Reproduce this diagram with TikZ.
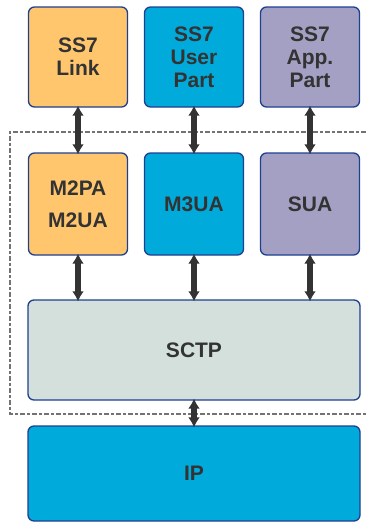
\documentclass[tikz,border=0pt]{standalone}
\usepackage{fontspec}
\setsansfont{Liberation Sans}
\usetikzlibrary{arrows.meta,positioning}
\definecolor{linkorange}{HTML}{FFC66E}
\definecolor{userblue}{HTML}{00AADB}
\definecolor{apppurple}{HTML}{A4A0C4}
\definecolor{sctpgray}{HTML}{D3E0DC}
\definecolor{edgeblue}{HTML}{1F3F8F}
\definecolor{txtgray}{HTML}{333333}
\begin{document}
\begin{tikzpicture}[x=1pt, y=-1pt,
    layer/.style={draw=edgeblue, line width=1.3pt, rounded corners=6pt, minimum width=99pt, minimum height=100pt, align=center, text=txtgray, font=\sffamily\bfseries\fontsize{21}{23}\selectfont, inner sep=0pt},
    wide/.style={layer, minimum width=332pt},
    arr/.style={{Latex[length=10pt,width=12pt]}-{Latex[length=10pt,width=12pt]}, line width=5.5pt, txtgray, shorten <=-2pt, shorten >=-2pt},
    frame/.style={draw=black!55, line width=1.3pt, dash pattern=on 5pt off 2pt on 3pt off 2pt}
]
\useasboundingbox (0,0) rectangle (366,523);
\node[layer, fill=linkorange] (link) at (78,57) {SS7\\Link};
\node[layer, fill=userblue] (user) at (194,57) {SS7\\User\\Part};
\node[layer, fill=apppurple] (app) at (310,57) {SS7\\App.\\Part};
\node[layer, fill=linkorange, minimum height=102pt] (m2pa) at (78,204) {M2PA\\[9pt]M2UA};
\node[layer, fill=userblue, minimum height=102pt] (m3ua) at (194,204) {M3UA};
\node[layer, fill=apppurple, minimum height=102pt] (sua) at (310,204) {SUA};
\node[wide, fill=sctpgray] (sctp) at (194,350) {SCTP};
\node[wide, fill=userblue, minimum height=95pt] (ip) at (194,473.5) {IP};

% dashed frame round the SIGTRAN part
\draw[frame] (366,132) -- (10,132) -- (10,414) -- (366,414);

\draw[arr] (link) -- (m2pa);
\draw[arr] (user) -- (m3ua);
\draw[arr] (app) -- (sua);
\draw[arr] (m2pa) -- (m2pa |- sctp.north);
\draw[arr] (m3ua) -- (sctp);
\draw[arr] (sua) -- (sua |- sctp.north);
\draw[arr] (sctp) -- (ip);
\end{tikzpicture}
\end{document}
